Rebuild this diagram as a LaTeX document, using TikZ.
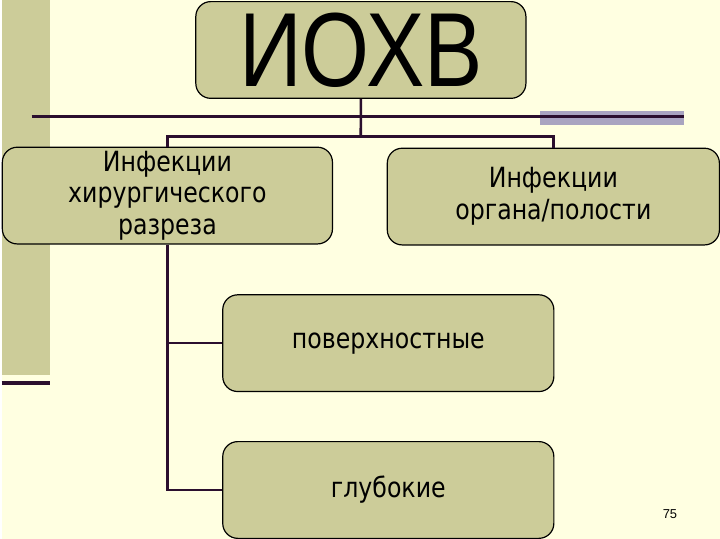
\documentclass[tikz,border=0pt]{standalone}
\usepackage{fontspec}
\setmainfont{Liberation Sans}
\newfontfamily\boxfont[FakeStretch=0.85]{DejaVu Sans}
\newfontfamily\titlefont[FakeStretch=0.83]{Liberation Sans}
\usepackage{tikz}
\usetikzlibrary{positioning}
\definecolor{SCream}{HTML}{FFFFE1}
\definecolor{SOlive}{HTML}{CCCC99}
\definecolor{SPlum}{HTML}{2B0F2E}
\definecolor{SLilac}{HTML}{A9A4C0}

\begin{document}
\begin{tikzpicture}[
  x=1bp,y=-1bp,
  b/.style={draw=black,line width=1.2bp,rounded corners=15bp,fill=SOlive,
    minimum width=332bp,minimum height=97bp,inner sep=0pt,align=center,
    font=\boxfont\fontsize{28}{32}\selectfont},
  l/.style={line width=2.6bp,color=SPlum}
]
  % slide background and template bits
  \fill[SCream] (0,0) rectangle (720,540);
  \fill[SOlive] (0,0) rectangle (48,376);
  \draw[SPlum,line width=3.5bp] (0,384) -- (48,384);
  \fill[SLilac] (540,111) rectangle (684,125);
  \draw[l] (30,117) -- (684,117);
  % boxes
  \node[b,anchor=north west,minimum width=331bp,
    font=\titlefont\fontsize{106}{106}\selectfont] (iohv) at (194,1) {ИОХВ};
  \node[b,anchor=north west,minimum width=331bp] (cut) at (0,147)
    {Инфекции\\хирургического\\разреза};
  \node[b,anchor=north west,minimum width=333bp] (organ) at (386,148)
    {Инфекции\\органа/полости};
  \node[b,anchor=north west] (surf) at (221,295) {поверхностные};
  \node[b,below=49bp of surf] (deep) {глубокие};
  \node[font=\fontsize{13}{13}\selectfont] (page) at (670,516) {75};
  % connectors
  \coordinate (fork) at (360,137);
  \draw[l] (iohv.south) -- (fork);
  \draw[l] (cut.north) |- (fork) -| (organ.north);
  \draw[l] (cut.south) |- (deep.west);
  \draw[l] (cut.south |- surf.west) -- (surf.west);
\end{tikzpicture}
\end{document}
